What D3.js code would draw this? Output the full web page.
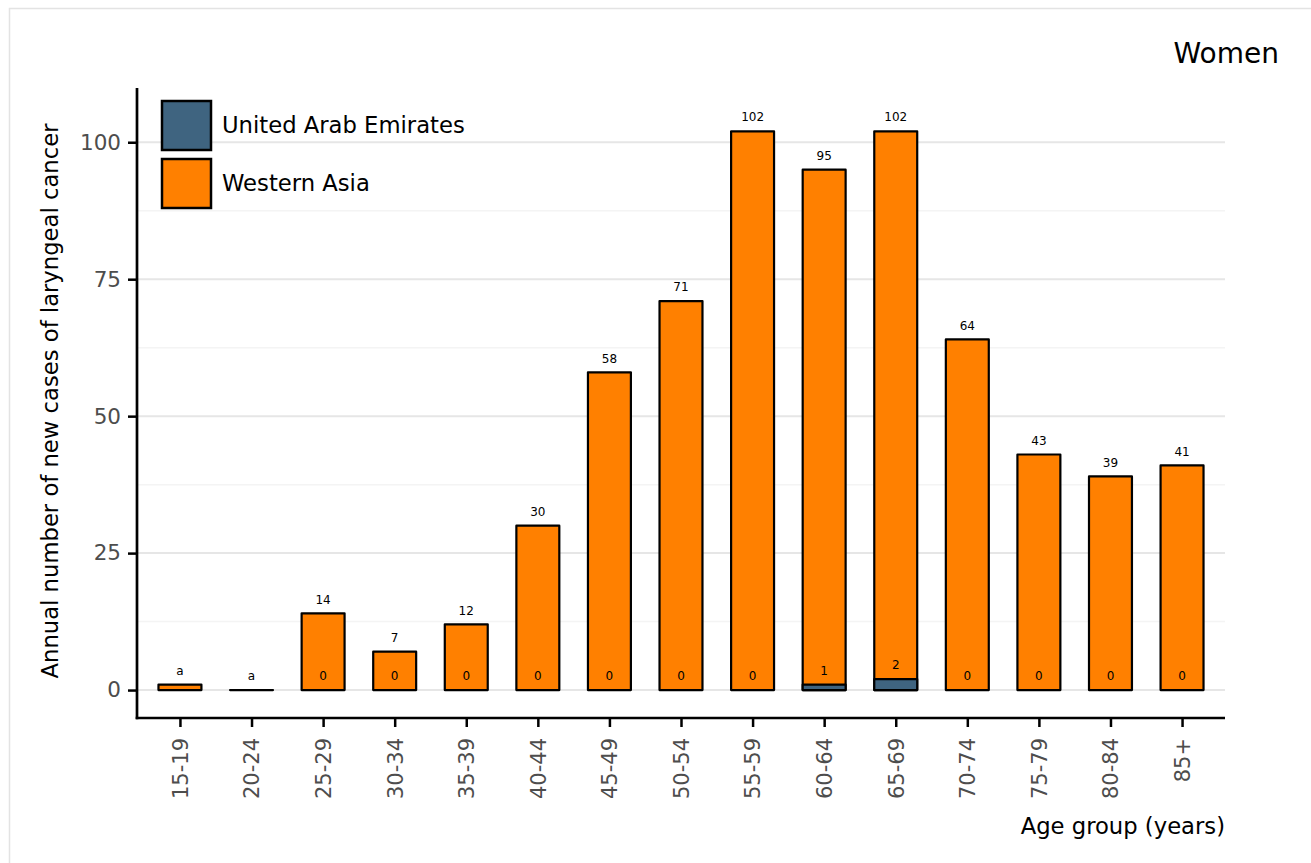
<!DOCTYPE html>
<html>
<head>
<meta charset="utf-8">
<script src="https://cdn.jsdelivr.net/npm/d3@7"></script>
<style>
  html, body { margin: 0; padding: 0; background: #fff; }
  svg { display: block; font-family: "DejaVu Sans", sans-serif; }
</style>
</head>
<body>
<svg id="chart" width="1311" height="863"></svg>
<script>
const ageGroups = ["15-19","20-24","25-29","30-34","35-39","40-44","45-49","50-54","55-59","60-64","65-69","70-74","75-79","80-84","85+"];
const westernAsia = [1, 0, 14, 7, 12, 30, 58, 71, 102, 95, 102, 64, 43, 39, 41];
const westernAsiaLabels = ["a","a","14","7","12","30","58","71","102","95","102","64","43","39","41"];
const uae = [0, 0, 0, 0, 0, 0, 0, 0, 0, 1, 2, 0, 0, 0, 0];
const uaeLabels = [null, null, "0","0","0","0","0","0","0","1","2","0","0","0","0"];
const yTicks = [0, 25, 50, 75, 100];
const yMinor = [12.5, 37.5, 62.5, 87.5];
const seriesNames = ["United Arab Emirates", "Western Asia"];
const seriesColors = ["#3F6480", "#FF8000"];

const svg = d3.select("#chart");

// outer border
svg.append("rect").attr("x", 9.5).attr("y", 8.5).attr("width", 1400).attr("height", 900)
  .attr("fill", "none").attr("stroke", "#e3e3e3").attr("stroke-width", 1.5);

const pL = 137, pR = 1225, pT = 88, pB = 718;
const x = d3.scaleLinear().domain([-0.6, ageGroups.length - 1 + 0.6]).range([pL, pR]);
const y = d3.scaleLinear().domain([-5.1, 109.9]).range([pB, pT]);
const step = x(1) - x(0);
const bw = step * 0.6;

// grid
svg.append("g").selectAll("line").data(yMinor).join("line")
  .attr("x1", pL).attr("x2", pR).attr("y1", d => y(d)).attr("y2", d => y(d))
  .attr("stroke", "#f4f4f4").attr("stroke-width", 1.5);
svg.append("g").selectAll("line").data(yTicks).join("line")
  .attr("x1", pL).attr("x2", pR).attr("y1", d => y(d)).attr("y2", d => y(d))
  .attr("stroke", "#e6e6e6").attr("stroke-width", 2);

// bars drawn as paths so zero-height bars still show their outline
const barPath = (i, v) => {
  const x0 = x(i) - bw / 2, x1 = x(i) + bw / 2, y0 = y(0), y1 = y(v);
  return `M${x0},${y0}H${x1}V${y1}H${x0}Z`;
};
const idx = ageGroups.map((d, i) => i);
svg.append("g").selectAll("path").data(idx).join("path")
  .attr("d", i => barPath(i, westernAsia[i]))
  .attr("fill", seriesColors[1]).attr("stroke", "#000").attr("stroke-width", 2.2)
  .attr("stroke-linejoin", "round");
svg.append("g").selectAll("path").data(idx.filter(i => uae[i] > 0)).join("path")
  .attr("d", i => barPath(i, uae[i]))
  .attr("fill", seriesColors[0]).attr("stroke", "#000").attr("stroke-width", 2.2)
  .attr("stroke-linejoin", "round");

// labels
svg.append("g").selectAll("text").data(idx).join("text")
  .attr("x", i => x(i)).attr("y", i => y(westernAsia[i]) - 14).attr("dy", "0.35em")
  .attr("text-anchor", "middle").attr("font-size", 12).attr("fill", "#000")
  .text(i => westernAsiaLabels[i]);
svg.append("g").selectAll("text").data(idx.filter(i => uaeLabels[i] !== null)).join("text")
  .attr("x", i => x(i)).attr("y", i => y(uae[i]) - 14).attr("dy", "0.35em")
  .attr("text-anchor", "middle").attr("font-size", 12).attr("fill", "#000")
  .text(i => uaeLabels[i]);

// y axis
const yAxis = svg.append("g").attr("transform", `translate(${pL},0)`)
  .call(d3.axisLeft(y).tickValues(yTicks).tickSize(9).tickPadding(7).tickSizeOuter(0));
yAxis.select(".domain").remove();
yAxis.selectAll(".tick line").attr("stroke", "#000").attr("stroke-width", 2.5);
yAxis.selectAll(".tick text").attr("font-size", 21.5).attr("fill", "#4d4d4d").attr("font-family", "DejaVu Sans");

// x axis
const xAxis = svg.append("g").attr("transform", `translate(0,${pB})`)
  .call(d3.axisBottom(x).tickValues(idx).tickFormat(i => ageGroups[i]).tickSize(9).tickSizeOuter(0));
xAxis.select(".domain").remove();
xAxis.selectAll(".tick line").attr("stroke", "#000").attr("stroke-width", 2.5);
xAxis.selectAll(".tick text").attr("font-size", 21).attr("fill", "#4d4d4d").attr("font-family", "DejaVu Sans")
  .attr("transform", "rotate(-90)").attr("text-anchor", "end")
  .attr("x", -20).attr("y", 0).attr("dy", "0.35em");

// axis lines
svg.append("line").attr("x1", pL).attr("x2", pL).attr("y1", pT).attr("y2", pB + 1.3)
  .attr("stroke", "#000").attr("stroke-width", 2.7);
svg.append("line").attr("x1", pL - 1.3).attr("x2", pR).attr("y1", pB).attr("y2", pB)
  .attr("stroke", "#000").attr("stroke-width", 2.7);

// titles
svg.append("text").attr("transform", `translate(58,${(pT + pB) / 2 - 2}) rotate(-90)`)
  .attr("text-anchor", "middle").attr("font-size", 22.7).attr("fill", "#000")
  .text("Annual number of new cases of laryngeal cancer");
svg.append("text").attr("x", pR).attr("y", 834).attr("text-anchor", "end")
  .attr("font-size", 22.7).attr("fill", "#000").text("Age group (years)");
svg.append("text").attr("x", 1279).attr("y", 63).attr("text-anchor", "end")
  .attr("font-size", 28).attr("fill", "#000").text("Women");

// legend
const lg = svg.append("g");
seriesNames.forEach((name, k) => {
  const yy = 101 + k * 58;
  lg.append("rect").attr("x", 162).attr("y", yy).attr("width", 49).attr("height", 49)
    .attr("fill", seriesColors[k]).attr("stroke", "#000").attr("stroke-width", 2.5);
  lg.append("text").attr("x", 222).attr("y", yy + 24.5).attr("dy", "0.35em")
    .attr("font-size", 22.7).attr("fill", "#000").text(name);
});
</script>
</body>
</html>
